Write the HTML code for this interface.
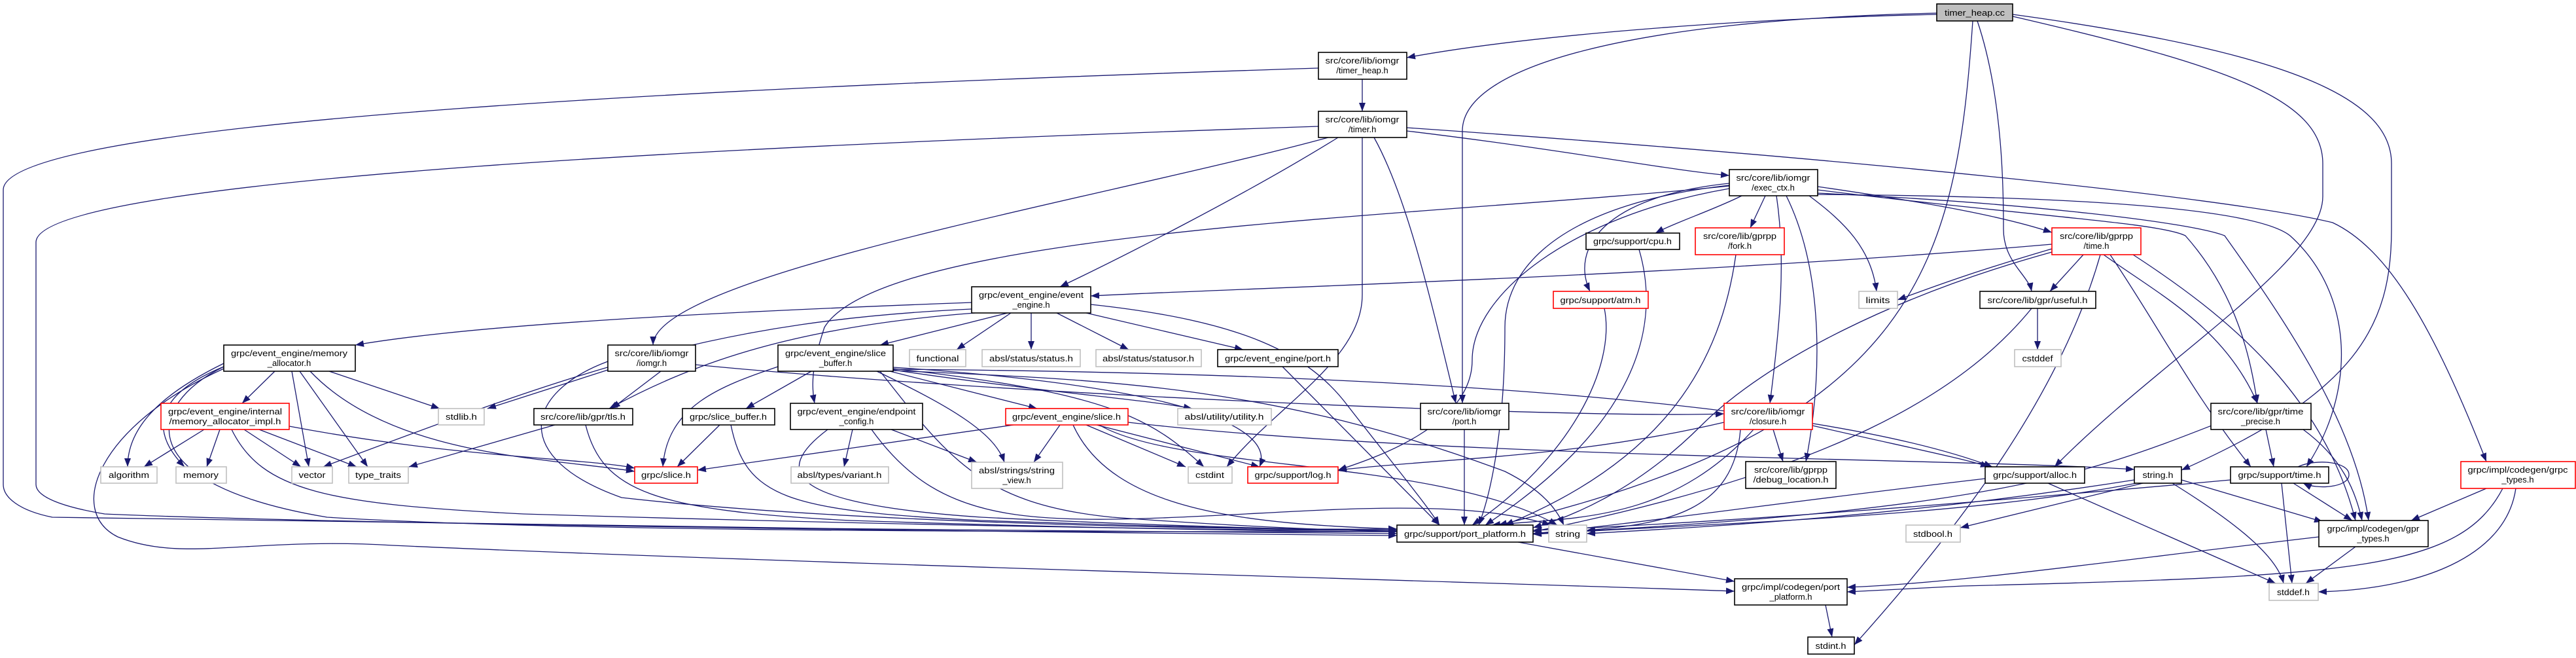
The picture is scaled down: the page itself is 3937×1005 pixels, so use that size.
<!DOCTYPE html>
<html><head><meta charset="utf-8"><style>
html,body{margin:0;padding:0;background:#fff;}
svg{display:block;}
text{font-family:"Liberation Sans",sans-serif;font-size:13px;fill:#000;text-anchor:middle;}
.n{fill:#fff;stroke:#000;stroke-width:1.6}
.g{fill:#fff;stroke:#bfbfbf;stroke-width:1.6}
.r{fill:#fff;stroke:#ff0000;stroke-width:1.6}
.e path{fill:none;stroke:#191970;stroke-width:1.3;marker-end:url(#a)}
</style></head><body>
<svg width="3937" height="1005" viewBox="0 0 3937 1005" xmlns="http://www.w3.org/2000/svg">
<defs><marker id="a" markerWidth="13" markerHeight="10" refX="13" refY="5" orient="auto" markerUnits="userSpaceOnUse"><path d="M0,0 L13,5 L0,10 z" fill="#191970"/></marker></defs>
<g class="e">
<path d="M2960,22 C2600,30 2300,60 2150,88"/>
<path d="M2960,20 C2500,30 2235,100 2235,200 L2235,616"/>
<path d="M3015,32 C2990,400 2935,650 2290,802"/>
<path d="M3022,32 C3062,150 3062,300 3062,350 C3062,400 3100,420 3105,445"/>
<path d="M3076,25 C3400,100 3550,150 3550,250 L3550,300 C3550,400 3300,550 3140,713"/>
<path d="M3076,22 C3500,80 3655,150 3655,250 L3655,350 C3655,500 3600,600 3334,718"/>
<path d="M2082,121 L2082,170"/>
<path d="M2015,104 C1200,130 5,180 5,290 L5,740 C5,760 30,780 80,790 C400,800 1500,810 2135,815"/>
<path d="M2015,193 C1200,220 55,270 55,370 L55,740 C55,760 100,775 160,785 C500,800 1500,812 2135,818"/>
<path d="M2150,200 C2400,230 2550,260 2643,268"/>
<path d="M2045,210 C1900,300 1700,400 1620,438"/>
<path d="M2030,210 C1700,300 1000,420 998,527"/>
<path d="M2100,210 C2150,300 2185,450 2225,616"/>
<path d="M2082,210 L2082,450 C2082,550 1950,620 1875,713"/>
<path d="M2150,195 C2800,240 3400,300 3565,340 C3650,380 3720,500 3800,705"/>
<path d="M2662,299 C2620,320 2560,340 2530,356"/>
<path d="M2698,299 L2675,348"/>
<path d="M2643,280 C2450,300 2400,380 2430,445"/>
<path d="M2765,299 C2820,340 2860,380 2868,445"/>
<path d="M2778,285 C2950,310 3060,330 3136,355"/>
<path d="M2715,299 C2730,400 2720,500 2705,616"/>
<path d="M2730,299 C2780,400 2790,550 2760,705"/>
<path d="M2643,288 C2400,330 2250,450 2250,550 C2250,650 2100,700 2045,718"/>
<path d="M2643,283 C2400,310 2300,400 2300,500 C2300,650 2280,750 2260,802"/>
<path d="M2778,290 C3100,330 3300,340 3340,360 C3420,450 3440,550 3450,616"/>
<path d="M2778,295 C3100,310 3350,340 3400,360 C3500,500 3600,650 3620,795"/>
<path d="M2778,297 C3200,300 3450,320 3500,360 C3600,450 3600,600 3525,713"/>
<path d="M2643,284 C2200,330 1350,350 1260,500 C1240,560 1240,590 1245,616"/>
<path d="M1540,478 L1345,527"/>
<path d="M1545,478 L1462,534"/>
<path d="M1576,478 L1576,534"/>
<path d="M1615,478 L1725,534"/>
<path d="M1660,478 L1900,534"/>
<path d="M1485,462 C1000,480 700,500 543,527"/>
<path d="M1490,478 C1200,500 1050,560 931,624"/>
<path d="M1485,472 C1100,490 900,560 494,713"/>
<path d="M1667,465 C1900,490 2000,540 2060,620 C2130,710 2180,770 2200,802"/>
<path d="M420,567 L370,616"/>
<path d="M342,555 C250,600 195,650 195,713"/>
<path d="M342,560 C220,610 240,670 282,713"/>
<path d="M446,567 L472,713"/>
<path d="M458,567 L562,713"/>
<path d="M503,567 L672,624"/>
<path d="M474,567 C600,700 850,700 970,720"/>
<path d="M342,560 C220,620 200,740 500,790 C900,815 1800,812 2135,812"/>
<path d="M342,563 C150,650 100,780 180,820 C280,860 380,820 600,833 C1200,860 2300,890 2651,903"/>
<path d="M312,656 L220,713"/>
<path d="M336,656 L316,713"/>
<path d="M373,656 L460,713"/>
<path d="M396,656 L545,713"/>
<path d="M442,651 C700,700 900,700 970,715"/>
<path d="M354,656 C400,750 500,770 800,785 C1300,800 1800,810 2135,810"/>
<path d="M929,565 L745,624"/>
<path d="M1010,567 L935,624"/>
<path d="M929,552 C800,600 780,700 950,760 C1300,800 1900,810 2135,808"/>
<path d="M1063,557 C1500,600 2400,640 2635,632"/>
<path d="M848,649 L625,713"/>
<path d="M895,649 C920,750 1000,780 1300,795 C1700,808 2000,812 2135,812"/>
<path d="M1240,567 L1140,624"/>
<path d="M1189,560 C1100,590 1020,620 1013,713"/>
<path d="M1340,567 C1450,620 1520,660 1535,706"/>
<path d="M1360,567 L1585,624"/>
<path d="M1365,565 C1600,600 1750,610 1822,624"/>
<path d="M1365,563 C1700,600 1760,640 1840,713"/>
<path d="M1365,561 C1800,590 1950,650 1925,713"/>
<path d="M1345,567 C1450,700 1500,770 1700,790 C1900,805 2050,810 2135,812"/>
<path d="M1365,566 C1700,580 1950,590 2300,720 C2360,750 2380,780 2390,802"/>
<path d="M1365,564 C2200,570 2800,620 3045,713"/>
<path d="M1100,649 L1035,713"/>
<path d="M1117,649 C1140,760 1200,780 1500,795 C1800,805 2000,810 2135,810"/>
<path d="M1303,656 L1290,713"/>
<path d="M1362,656 L1493,706"/>
<path d="M1265,656 C1180,720 1200,770 1500,790 C1800,805 2050,810 2135,810"/>
<path d="M1332,656 C1450,820 1600,800 2000,780 C2200,770 2300,780 2370,802"/>
<path d="M1549,649 L1066,718"/>
<path d="M1620,649 L1580,706"/>
<path d="M1660,649 L1812,713"/>
<path d="M1676,649 L1925,713"/>
<path d="M1640,649 C1700,780 1900,800 2135,808"/>
<path d="M1680,649 C1800,720 2200,700 2380,802"/>
<path d="M1724,645 C2200,700 3000,700 3262,717"/>
<path d="M1960,560 L2200,802"/>
<path d="M2238,656 L2238,802"/>
<path d="M2635,645 C2400,700 2200,700 2045,718"/>
<path d="M2710,656 L2725,705"/>
<path d="M2680,656 C2550,800 2400,790 2280,802"/>
<path d="M2770,650 C2900,680 3000,700 3040,713"/>
<path d="M2660,656 C2650,780 2550,800 2425,810"/>
<path d="M2505,381 C2540,500 2500,650 2270,802"/>
<path d="M2653,389 C2630,550 2550,700 2300,802"/>
<path d="M2452,471 C2470,560 2400,700 2250,802"/>
<path d="M3136,373 C2600,420 1900,440 1667,452"/>
<path d="M3136,380 C3000,420 2950,440 2900,458"/>
<path d="M3184,389 L3133,445"/>
<path d="M3215,389 C3300,450 3400,500 3450,616"/>
<path d="M3225,389 C3300,500 3350,600 3440,713"/>
<path d="M3260,389 C3400,480 3550,600 3600,795"/>
<path d="M3136,385 C2900,450 2700,550 2600,650 C2500,750 2400,790 2343,806"/>
<path d="M3210,389 C3150,600 3000,800 2834,985"/>
<path d="M3114,471 L3114,534"/>
<path d="M3105,471 C3000,600 2800,720 2343,812"/>
<path d="M3463,656 L3475,713"/>
<path d="M3520,656 C3580,700 3600,750 3610,795"/>
<path d="M3380,650 C3200,720 3050,780 2343,815"/>
<path d="M3034,731 C2700,770 2500,800 2343,815"/>
<path d="M3130,738 L3478,891"/>
<path d="M3265,738 C3000,790 2600,800 2343,816"/>
<path d="M3262,733 C2900,790 2600,805 2425,815"/>
<path d="M3275,738 L2996,806"/>
<path d="M3334,733 L3550,797"/>
<path d="M3320,738 C3420,800 3480,850 3490,891"/>
<path d="M3505,738 L3595,795"/>
<path d="M3487,738 L3503,891"/>
<path d="M3409,733 C3000,770 2600,800 2343,810"/>
<path d="M3512,713 C3540,700 3590,705 3590,725 C3590,745 3540,748 3520,738"/>
<path d="M3800,746 L3685,795"/>
<path d="M3825,746 C3760,870 3600,880 3000,895 C2900,900 2850,903 2823,904"/>
<path d="M3845,746 C3830,850 3700,900 3543,904"/>
<path d="M2320,828 L2651,888"/>
<path d="M3544,820 C3200,860 3000,890 2823,897"/>
<path d="M3600,835 L3524,891"/>
<path d="M2790,924 L2800,973"/>
</g>
<g>
<rect x="2960" y="6" width="116" height="26" style="fill:#bfbfbf;stroke:#000;stroke-width:1.6"/><text x="3018" y="24" textLength="92" lengthAdjust="spacingAndGlyphs">timer_heap.cc</text>
<rect class="n" x="2015" y="80" width="135" height="41"/><text x="2082" y="97" textLength="113" lengthAdjust="spacingAndGlyphs">src/core/lib/iomgr</text><text x="2082" y="112">/timer_heap.h</text>
<rect class="n" x="2015" y="170" width="135" height="40"/><text x="2082" y="187" textLength="113" lengthAdjust="spacingAndGlyphs">src/core/lib/iomgr</text><text x="2082" y="202">/timer.h</text>
<rect class="n" x="2643" y="259" width="135" height="40"/><text x="2710" y="276" textLength="113" lengthAdjust="spacingAndGlyphs">src/core/lib/iomgr</text><text x="2710" y="291">/exec_ctx.h</text>
<rect class="n" x="1485" y="438" width="182" height="40"/><text x="1576" y="455" textLength="160" lengthAdjust="spacingAndGlyphs">grpc/event_engine/event</text><text x="1576" y="470">_engine.h</text>
<rect class="n" x="342" y="527" width="201" height="40"/><text x="442" y="544" textLength="178" lengthAdjust="spacingAndGlyphs">grpc/event_engine/memory</text><text x="442" y="559">_allocator.h</text>
<rect class="n" x="929" y="527" width="134" height="40"/><text x="996" y="544" textLength="113" lengthAdjust="spacingAndGlyphs">src/core/lib/iomgr</text><text x="996" y="559">/iomgr.h</text>
<rect class="n" x="1189" y="527" width="176" height="40"/><text x="1277" y="544" textLength="154" lengthAdjust="spacingAndGlyphs">grpc/event_engine/slice</text><text x="1277" y="559">_buffer.h</text>
<rect class="g" x="1390" y="534" width="86" height="26"/><text x="1433" y="552" textLength="65" lengthAdjust="spacingAndGlyphs">functional</text>
<rect class="g" x="1501" y="534" width="150" height="26"/><text x="1576" y="552" textLength="128" lengthAdjust="spacingAndGlyphs">absl/status/status.h</text>
<rect class="g" x="1675" y="534" width="161" height="26"/><text x="1755" y="552" textLength="140" lengthAdjust="spacingAndGlyphs">absl/status/statusor.h</text>
<rect class="n" x="1861" y="534" width="184" height="26"/><text x="1953" y="552" textLength="162" lengthAdjust="spacingAndGlyphs">grpc/event_engine/port.h</text>
<rect class="n" x="2424" y="356" width="143" height="25"/><text x="2495" y="373" textLength="120" lengthAdjust="spacingAndGlyphs">grpc/support/cpu.h</text>
<rect class="r" x="2591" y="348" width="136" height="41"/><text x="2659" y="365" textLength="112" lengthAdjust="spacingAndGlyphs">src/core/lib/gprpp</text><text x="2659" y="380">/fork.h</text>
<rect class="r" x="2374" y="445" width="145" height="26"/><text x="2446" y="463" textLength="123" lengthAdjust="spacingAndGlyphs">grpc/support/atm.h</text>
<rect class="g" x="2841" y="445" width="59" height="26"/><text x="2870" y="463" textLength="37" lengthAdjust="spacingAndGlyphs">limits</text>
<rect class="r" x="3136" y="348" width="136" height="41"/><text x="3204" y="365" textLength="112" lengthAdjust="spacingAndGlyphs">src/core/lib/gprpp</text><text x="3204" y="380">/time.h</text>
<rect class="n" x="3026" y="445" width="177" height="26"/><text x="3114" y="463" textLength="153" lengthAdjust="spacingAndGlyphs">src/core/lib/gpr/useful.h</text>
<rect class="g" x="3079" y="534" width="71" height="26"/><text x="3114" y="552" textLength="47" lengthAdjust="spacingAndGlyphs">cstddef</text>
<rect class="r" x="246" y="616" width="196" height="40"/><text x="344" y="633" textLength="174" lengthAdjust="spacingAndGlyphs">grpc/event_engine/internal</text><text x="344" y="648" textLength="171" lengthAdjust="spacingAndGlyphs">/memory_allocator_impl.h</text>
<rect class="g" x="670" y="624" width="70" height="25"/><text x="705" y="641" textLength="48" lengthAdjust="spacingAndGlyphs">stdlib.h</text>
<rect class="n" x="816" y="624" width="151" height="25"/><text x="891" y="641" textLength="130" lengthAdjust="spacingAndGlyphs">src/core/lib/gpr/tls.h</text>
<rect class="n" x="1043" y="624" width="141" height="25"/><text x="1113" y="641" textLength="118" lengthAdjust="spacingAndGlyphs">grpc/slice_buffer.h</text>
<rect class="n" x="1208" y="616" width="202" height="40"/><text x="1309" y="633" textLength="181" lengthAdjust="spacingAndGlyphs">grpc/event_engine/endpoint</text><text x="1309" y="648">_config.h</text>
<rect class="r" x="1537" y="624" width="187" height="25"/><text x="1630" y="641" textLength="166" lengthAdjust="spacingAndGlyphs">grpc/event_engine/slice.h</text>
<rect class="g" x="1800" y="624" width="143" height="25"/><text x="1871" y="641" textLength="121" lengthAdjust="spacingAndGlyphs">absl/utility/utility.h</text>
<rect class="n" x="2171" y="616" width="135" height="40"/><text x="2238" y="633" textLength="113" lengthAdjust="spacingAndGlyphs">src/core/lib/iomgr</text><text x="2238" y="648">/port.h</text>
<rect class="r" x="2635" y="616" width="135" height="40"/><text x="2702" y="633" textLength="113" lengthAdjust="spacingAndGlyphs">src/core/lib/iomgr</text><text x="2702" y="648">/closure.h</text>
<rect class="n" x="3379" y="616" width="153" height="40"/><text x="3455" y="633" textLength="131" lengthAdjust="spacingAndGlyphs">src/core/lib/gpr/time</text><text x="3455" y="648">_precise.h</text>
<rect class="g" x="154" y="713" width="86" height="25"/><text x="197" y="730" textLength="62" lengthAdjust="spacingAndGlyphs">algorithm</text>
<rect class="g" x="269" y="713" width="77" height="25"/><text x="307" y="730" textLength="54" lengthAdjust="spacingAndGlyphs">memory</text>
<rect class="g" x="446" y="713" width="62" height="25"/><text x="477" y="730" textLength="41" lengthAdjust="spacingAndGlyphs">vector</text>
<rect class="g" x="533" y="713" width="91" height="25"/><text x="578" y="730" textLength="70" lengthAdjust="spacingAndGlyphs">type_traits</text>
<rect class="r" x="970" y="713" width="96" height="25"/><text x="1018" y="730" textLength="76" lengthAdjust="spacingAndGlyphs">grpc/slice.h</text>
<rect class="g" x="1209" y="713" width="149" height="25"/><text x="1283" y="730" textLength="129" lengthAdjust="spacingAndGlyphs">absl/types/variant.h</text>
<rect class="g" x="1485" y="706" width="139" height="40"/><text x="1554" y="723" textLength="116" lengthAdjust="spacingAndGlyphs">absl/strings/string</text><text x="1554" y="738">_view.h</text>
<rect class="g" x="1816" y="713" width="67" height="25"/><text x="1849" y="730" textLength="44" lengthAdjust="spacingAndGlyphs">cstdint</text>
<rect class="r" x="1907" y="713" width="138" height="25"/><text x="1976" y="730" textLength="117" lengthAdjust="spacingAndGlyphs">grpc/support/log.h</text>
<rect class="n" x="2668" y="705" width="138" height="41"/><text x="2737" y="722" textLength="112" lengthAdjust="spacingAndGlyphs">src/core/lib/gprpp</text><text x="2737" y="737" textLength="115" lengthAdjust="spacingAndGlyphs">/debug_location.h</text>
<rect class="n" x="3034" y="713" width="152" height="25"/><text x="3110" y="730" textLength="128" lengthAdjust="spacingAndGlyphs">grpc/support/alloc.h</text>
<rect class="n" x="3262" y="713" width="72" height="25"/><text x="3298" y="730" textLength="47" lengthAdjust="spacingAndGlyphs">string.h</text>
<rect class="n" x="3409" y="713" width="150" height="25"/><text x="3484" y="730" textLength="127" lengthAdjust="spacingAndGlyphs">grpc/support/time.h</text>
<rect class="r" x="3761" y="705" width="175" height="41"/><text x="3848" y="722" textLength="153" lengthAdjust="spacingAndGlyphs">grpc/impl/codegen/grpc</text><text x="3848" y="737">_types.h</text>
<rect class="n" x="2135" y="802" width="208" height="26"/><text x="2239" y="820" textLength="186" lengthAdjust="spacingAndGlyphs">grpc/support/port_platform.h</text>
<rect class="g" x="2367" y="802" width="58" height="26"/><text x="2396" y="820" textLength="38" lengthAdjust="spacingAndGlyphs">string</text>
<rect class="g" x="2913" y="802" width="83" height="26"/><text x="2954" y="820" textLength="60" lengthAdjust="spacingAndGlyphs">stdbool.h</text>
<rect class="n" x="3544" y="795" width="167" height="40"/><text x="3627" y="812" textLength="141" lengthAdjust="spacingAndGlyphs">grpc/impl/codegen/gpr</text><text x="3627" y="827">_types.h</text>
<rect class="n" x="2651" y="884" width="172" height="40"/><text x="2737" y="901" textLength="150" lengthAdjust="spacingAndGlyphs">grpc/impl/codegen/port</text><text x="2737" y="916">_platform.h</text>
<rect class="g" x="3468" y="891" width="75" height="26"/><text x="3505" y="909" textLength="50" lengthAdjust="spacingAndGlyphs">stddef.h</text>
<rect class="n" x="2763" y="973" width="71" height="26"/><text x="2798" y="991" textLength="47" lengthAdjust="spacingAndGlyphs">stdint.h</text>
</g>
</svg>
</body></html>
